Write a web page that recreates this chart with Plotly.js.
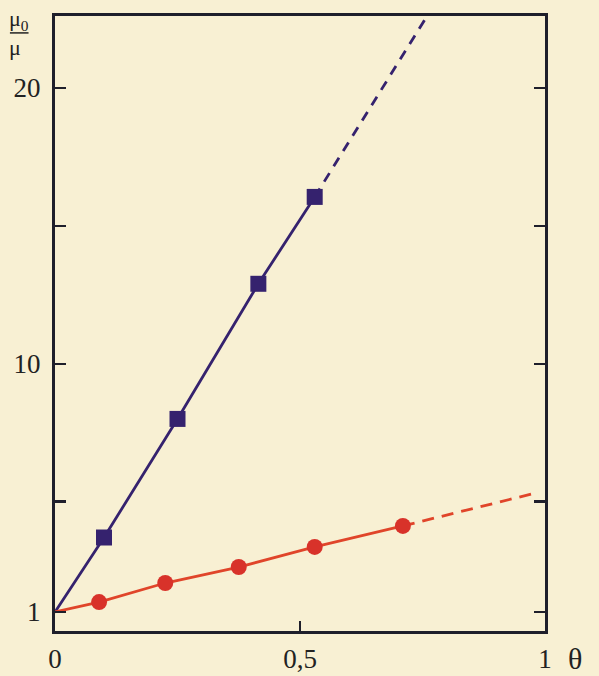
<!DOCTYPE html>
<html>
<head>
<meta charset="utf-8">
<script src="https://cdn.plot.ly/plotly-3.0.1.min.js"></script>
<style>
  html, body { margin: 0; padding: 0; background: #f8f0d3; }
  #chart { width: 599px; height: 676px; }
</style>
</head>
<body>
<div id="chart"></div>
<script>
// ---- data ----
const origin = [0, 1];                       // both curves start at θ = 0, μ0/μ = 1
const squareTheta = [0.10, 0.25, 0.415, 0.53];
const squareMu    = [3.7, 8.0, 12.9, 16.05];
const squareExtraTheta = [0.53, 0.78];
const squareExtraMu    = [16.05, 23.2];

const circleTheta = [0.09, 0.225, 0.375, 0.53, 0.71];
const circleMu    = [1.36, 2.05, 2.63, 3.36, 4.12];
const circleExtraTheta = [0.71, 0.98];
const circleExtraMu    = [4.12, 5.31];

const yTickVals = [1, 10, 20];
const yTickText = ['1', '10', '20'];
const yMinorTickVals = [5, 15];
const xTickVals = [0, 0.5, 1];
const xTickText = ['0', '0,5', '1'];

// ---- styles ----
const blue = '#35226e';
const red = '#d8322a';
const redLine = '#e0452a';
const ink = '#1f1f2b';
const serif = 'Liberation Serif';

const traces = [
  { x: [origin[0]].concat(squareTheta), y: [origin[1]].concat(squareMu),
    mode: 'lines', line: { color: blue, width: 2.8 }, hoverinfo: 'skip' },
  { x: squareExtraTheta, y: squareExtraMu,
    mode: 'lines', line: { color: blue, width: 2.8, dash: '10px,8px' }, hoverinfo: 'skip' },
  { x: squareTheta, y: squareMu,
    mode: 'markers', marker: { symbol: 'square', size: 16, color: blue } },
  { x: [origin[0]].concat(circleTheta), y: [origin[1]].concat(circleMu),
    mode: 'lines', line: { color: redLine, width: 2.8 }, hoverinfo: 'skip' },
  { x: circleExtraTheta, y: circleExtraMu,
    mode: 'lines', line: { color: redLine, width: 2.8, dash: '12px,8px' }, hoverinfo: 'skip' },
  { x: circleTheta, y: circleMu,
    mode: 'markers', marker: { symbol: 'circle', size: 16, color: red } }
];

const tickFont = { family: serif, size: 27, color: '#222' };

const layout = {
  width: 599, height: 676,
  margin: { l: 55, r: 54, t: 16, b: 45, pad: 0 },
  paper_bgcolor: '#f8f0d3',
  plot_bgcolor: 'rgba(0,0,0,0)',
  showlegend: false,
  font: { family: serif, size: 27, color: '#222' },
  xaxis: {
    range: [0, 1], tickmode: 'array', tickvals: xTickVals, ticktext: xTickText,
    tickfont: tickFont, ticklabelstandoff: 2,
    ticks: 'inside', ticklen: 10, tickwidth: 2.5, tickcolor: ink,
    showline: true, linewidth: 3, linecolor: ink, mirror: true,
    showgrid: false, zeroline: false, fixedrange: true
  },
  yaxis: {
    range: [0.31, 22.61], tickmode: 'array', tickvals: yTickVals, ticktext: yTickText,
    tickfont: tickFont, ticklabelstandoff: 6,
    ticks: 'inside', ticklen: 11, tickwidth: 2.5, tickcolor: ink,
    minor: { tickmode: 'array', tickvals: yMinorTickVals, ticks: 'inside', ticklen: 11,
             tickwidth: 2.5, tickcolor: ink, showgrid: false },
    showline: true, linewidth: 3, linecolor: ink, mirror: 'ticks',
    showgrid: false, zeroline: false, fixedrange: true
  },
  annotations: [
    { xref: 'paper', yref: 'paper', x: 1.062, y: -0.045, xanchor: 'center', yanchor: 'middle',
      text: 'θ', showarrow: false, font: { family: serif, size: 30, color: '#222' } },
    { xref: 'paper', yref: 'paper', x: -0.073, y: 0.972, xanchor: 'center', yanchor: 'middle',
      align: 'left',
      text: 'μ<sub>0</sub><br>μ', showarrow: false, font: { family: serif, size: 22, color: '#222' } }
  ],
  shapes: [
    { type: 'line', xref: 'paper', yref: 'paper', x0: -0.092, x1: -0.054, y0: 0.9725, y1: 0.9725,
      line: { color: '#222', width: 1.5 } }
  ]
};

Plotly.newPlot('chart', traces, layout, { staticPlot: true });
</script>
</body>
</html>
